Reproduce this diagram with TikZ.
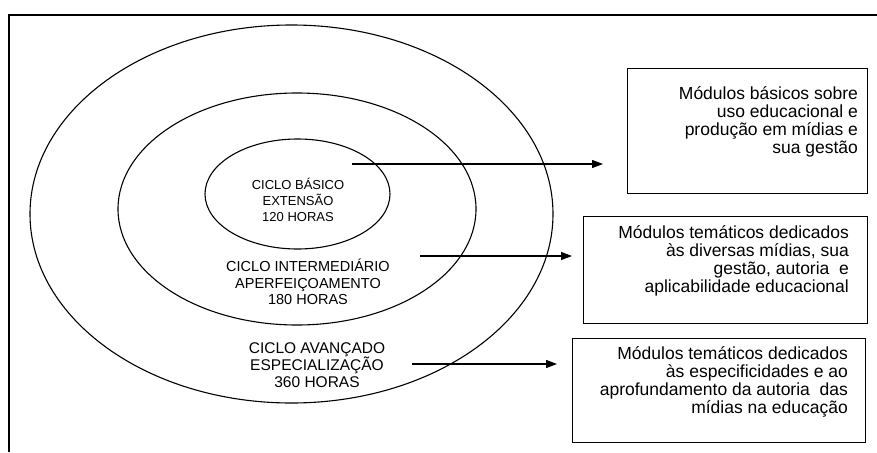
\documentclass[tikz,border=0pt]{standalone}
\usepackage{fontspec}
\setmainfont{Liberation Sans}
\usetikzlibrary{arrows.meta,shapes.geometric}

\tikzset{
  ring/.style={draw, ellipse, line width=1.1pt, inner sep=0pt},
  cyc/.style={align=center, inner sep=0pt},
  modbox/.style={draw, line width=1.1pt, anchor=north west, inner sep=0pt},
  modtext/.style={align=right, anchor=north east, inner sep=0pt,
    font=\fontsize{17.5}{18.2}\selectfont},
  link/.style={line width=1.2pt, -{Triangle[length=11pt,width=8pt]}}
}

\begin{document}
\begin{tikzpicture}[x=1pt, y=-1pt]
\useasboundingbox (0,0) rectangle (877,452);

% frame
\draw[line width=1.6pt] (9,452) -- (9,15) -- (877,15);

% the three cycles
\node[ring, minimum width=523pt, minimum height=378pt] (outer) at (291.5,214) {};
\node[ring, minimum width=358pt, minimum height=232pt] (middle) at (297,209) {};
\node[ring, minimum width=185pt, minimum height=110pt] (inner) at (297.5,194) {};

\node[cyc, font=\fontsize{13}{16}\selectfont] (basico) at (298,200)
  {CICLO BÁSICO\\EXTENSÃO\\120 HORAS};
\node[cyc, font=\fontsize{14.5}{16.5}\selectfont] (interm) at (308,282)
  {CICLO INTERMEDIÁRIO\\APERFEIÇOAMENTO\\180 HORAS};
\node[cyc, font=\fontsize{15.5}{17}\selectfont] (avanc) at (317,365)
  {CICLO AVANÇADO\\ESPECIALIZAÇÃO\\360 HORAS};

% module boxes
\node[modbox, minimum width=240pt, minimum height=125pt] (mod1) at (627,68) {};
\node[modbox, minimum width=284pt, minimum height=107pt] (mod2) at (583,216) {};
\node[modbox, minimum width=293pt, minimum height=104pt] (mod3) at (572,338) {};

\node[modtext] (txt1) at ([xshift=-10pt, yshift=-18pt] mod1.north east)
  {Módulos básicos sobre\\uso educacional e\\produção em mídias e\\sua gestão};
\node[modtext] (txt2) at ([xshift=-19pt, yshift=-9pt] mod2.north east)
  {Módulos temáticos dedicados\\às diversas mídias, sua\\gestão, autoria~ e\\aplicabilidade educacional};
\node[modtext] (txt3) at ([xshift=-18pt, yshift=-8pt] mod3.north east)
  {Módulos temáticos dedicados\\às especificidades e ao\\aprofundamento da autoria~ das\\mídias na educação};

% arrows
\coordinate (from1) at (352,164);
\coordinate (to1) at (603,164);
\coordinate (from2) at (420,256);
\coordinate (to2) at (572,256);
\coordinate (from3) at (412,364);
\coordinate (to3) at (557,364);
\draw[link] (from1) -- (to1);
\draw[link] (from2) -- (to2);
\draw[link] (from3) -- (to3);

\end{tikzpicture}
\end{document}
